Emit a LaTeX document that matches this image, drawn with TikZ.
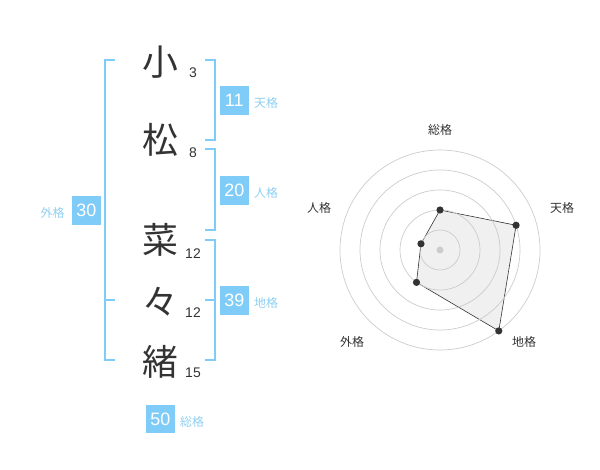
\documentclass[tikz,border=0pt]{standalone}
\usepackage{fontspec}
\setmainfont{Noto Sans CJK JP}
\newfontfamily\digitfont{Liberation Sans}
\usepackage{xcolor}
\usepackage{tikz}
\usetikzlibrary{backgrounds,positioning}

\definecolor{kakublue}{HTML}{80CCF8}
\definecolor{kakutext}{HTML}{8ED0F2}
\definecolor{sumi}{HTML}{333333}
\definecolor{ringgray}{HTML}{CCCCCC}
\definecolor{polyfill}{HTML}{F0F0F0}

\tikzset{
  kanji/.style={text=sumi, inner sep=0pt, font=\fontsize{36}{36}\selectfont},
  kakusu/.style={text=sumi, inner sep=0pt, font=\digitfont\fontsize{14}{14}\selectfont},
  kaku/.style={fill=kakublue, text=white, inner sep=0pt, minimum size=28.7bp, font=\digitfont\fontsize{18}{18}\selectfont},
  kakuname/.style={text=kakutext, inner sep=0pt, yshift=-3bp, font=\fontsize{12}{12}\selectfont},
  bracket/.style={draw=kakublue, line width=1.6bp},
  ring/.style={draw=ringgray, line width=0.7bp},
  axisname/.style={text=sumi, inner sep=0pt, font=\fontsize{12}{12}\selectfont},
}

\begin{document}
\begin{tikzpicture}[x=1bp,y=-1bp]
\useasboundingbox (0,0) rectangle (600,470);

\node[kanji] (k1) at (160,61.7) {小};
\node[kanji] (k2) at (160,140) {松};
\node[kanji] (k3) at (160,240) {菜};
\node[kanji] (k4) at (160,301.7) {々};
\node[kanji] (k5) at (160,361.7) {緒};

\node[kakusu] (s1) at (193,72.7) {3};
\node[kakusu] (s2) at (193,153) {8};
\node[kakusu] (s3) at (193,253.3) {12};
\node[kakusu] (s4) at (193,312.7) {12};
\node[kakusu] (s5) at (193,372.7) {15};

\draw[bracket] (115,60) -- (105,60) -- (105,360) -- (115,360);
\draw[bracket] (105,300) -- (115,300);
\draw[bracket] (205,60) -- (215,60) -- (215,140) -- (205,140);
\draw[bracket] (205,149.3) -- (215,149.3) -- (215,230) -- (205,230);
\draw[bracket] (205,240) -- (215,240) -- (215,360) -- (205,360);
\draw[bracket] (205,300) -- (215,300);

\node[kaku] (ten) at (234.3,100.3) {11};
\node[kakuname, right=5bp of ten] (tenname) {天格};
\node[kaku] (jin) at (234.3,190.3) {20};
\node[kakuname, right=5bp of jin] (jinname) {人格};
\node[kaku] (gai) at (86.3,210.3) {30};
\node[kakuname, left=7bp of gai] (gainame) {外格};
\node[kaku] (chi) at (234.3,300.3) {39};
\node[kakuname, right=5bp of chi] (chiname) {地格};
\node[kaku] (sou) at (160.3,419) {50};
\node[kakuname, right=5bp of sou] (souname) {総格};

\begin{scope}[shift={(440,250)}]
\coordinate (o) at (0,0);
\foreach \r in {20,40,60,80,100}
  \draw[ring] (o) circle[radius=\r bp];
\fill[ringgray] (o) circle[radius=3.5bp];

\coordinate (rsou) at (90:40bp);
\coordinate (rten) at (18:80bp);
\coordinate (rchi) at (-54:100bp);
\coordinate (rgai) at (-126:40bp);
\coordinate (rjin) at (162:20bp);
\begin{scope}[on background layer]
\draw[fill=polyfill, draw=sumi, line width=0.6bp] (rsou) -- (rten) -- (rchi) -- (rgai) -- (rjin) -- cycle;
\end{scope}
\foreach \p in {rsou,rten,rchi,rgai,rjin}
  \fill[sumi] (\p) circle[radius=3.6bp];
\end{scope}

\node[axisname] (asou) at (440,130) {総格};
\node[axisname] (aten) at (562,208) {天格};
\node[axisname] (achi) at (524,342) {地格};
\node[axisname] (agai) at (352,342) {外格};
\node[axisname] (ajin) at (319,208) {人格};

\end{tikzpicture}
\end{document}
